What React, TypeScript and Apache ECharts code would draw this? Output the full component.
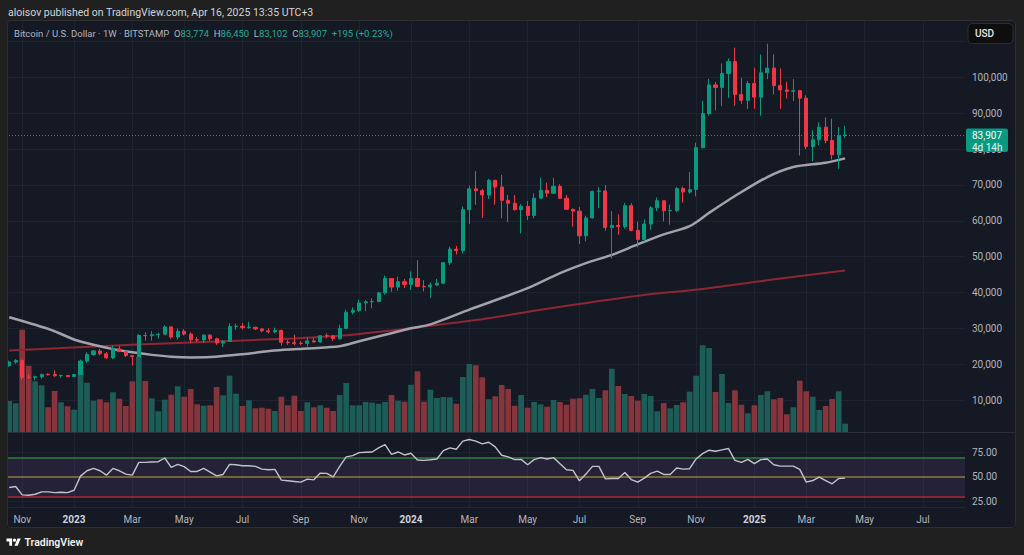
import React, { useEffect, useRef } from "react";
import * as echarts from "echarts";

// ---------------- data (prices in thousands of USD) ----------------
const FIRST_WEEK = "2022-10-24";
const WEEK_SLOTS = 148; // 130 weekly bars + empty future weeks on the axis

const OPEN = [
  19.6, 20.6, 21.0, 16.4, 16.3, 16.5, 17.2, 17.1, 16.8, 16.85,
  16.55, 17.1, 20.9, 22.7, 23.7, 22.9, 21.8, 24.3, 23.5, 22.35,
  22.1, 28.0, 27.95, 28.2, 28.35, 30.4, 27.6, 29.2, 28.4, 26.8,
  26.75, 28.1, 27.1, 25.9, 26.35, 30.5, 30.6, 30.2, 30.3, 29.85,
  29.3, 29.05, 29.4, 26.1, 26.0, 25.85, 25.8, 26.5, 26.2, 27.95,
  27.9, 27.1, 30.0, 34.5, 35.0, 37.1, 37.4, 37.5, 39.9, 43.9,
  41.5, 43.0, 42.25, 43.9, 41.7, 41.6, 42.1, 42.6, 48.3, 52.1,
  51.7, 63.1, 68.9, 68.4, 67.2, 71.3, 69.4, 65.7, 64.9, 63.1,
  64.0, 61.5, 66.3, 68.5, 67.7, 69.6, 66.3, 63.2, 62.7, 55.8,
  60.8, 68.2, 68.3, 58.1, 58.7, 58.4, 64.2, 57.3, 54.8, 59.1,
  63.6, 65.6, 62.8, 62.9, 69.0, 68.0, 68.7, 80.4, 89.9, 97.9,
  97.2, 101.1, 104.4, 95.2, 93.6, 98.3, 94.5, 101.3, 102.6, 97.7,
  96.5, 96.1, 96.3, 94.2, 80.7, 82.6, 86.1, 82.4, 78.4, 83.774,
];
const HIGH = [
  21.0, 21.4, 21.4, 17.2, 16.8, 17.4, 17.4, 18.3, 17.1, 16.95,
  17.2, 21.3, 23.3, 23.9, 24.2, 23.4, 25.2, 25.1, 23.9, 22.6,
  28.4, 28.9, 29.2, 28.8, 30.9, 30.5, 30.0, 29.8, 28.9, 27.6,
  28.4, 28.4, 27.4, 26.8, 31.4, 31.3, 31.5, 31.8, 30.4, 30.0,
  30.0, 30.2, 29.7, 26.8, 28.2, 26.4, 27.4, 27.4, 28.0, 28.6,
  27.95, 31.0, 35.2, 35.9, 38.0, 37.9, 38.4, 40.2, 44.7, 44.0,
  44.4, 43.8, 45.9, 49.0, 43.4, 42.8, 43.8, 48.5, 52.8, 53.0,
  64.0, 69.8, 73.8, 68.9, 71.7, 71.4, 72.8, 67.2, 67.2, 64.7,
  65.5, 67.7, 72.0, 70.6, 72.0, 70.2, 67.2, 63.4, 63.8, 61.4,
  68.4, 69.4, 70.0, 62.7, 61.8, 65.0, 64.9, 59.8, 60.4, 64.1,
  66.5, 65.6, 64.5, 69.4, 69.5, 73.6, 81.8, 93.5, 99.6, 98.7,
  103.9, 105.3, 108.3, 99.9, 99.0, 102.7, 106.4, 109.4, 106.4, 102.5,
  98.8, 99.5, 96.5, 95.0, 85.3, 87.5, 88.8, 88.5, 86.1, 86.45,
];
const LOW = [
  19.3, 20.1, 15.6, 15.9, 15.5, 16.0, 16.8, 16.5, 16.3, 16.4,
  16.5, 17.1, 20.4, 22.3, 22.5, 21.4, 21.4, 23.4, 22.0, 19.6,
  21.9, 26.6, 26.6, 27.2, 28.2, 27.1, 26.9, 28.0, 25.8, 26.2,
  25.9, 26.5, 25.4, 24.8, 26.2, 29.6, 29.7, 29.9, 29.5, 28.9,
  28.6, 28.7, 25.2, 25.4, 25.3, 25.4, 24.9, 26.0, 26.0, 27.2,
  26.5, 26.9, 29.8, 33.9, 34.5, 34.8, 35.6, 37.5, 39.4, 40.2,
  40.5, 41.3, 40.7, 41.5, 40.3, 38.5, 41.8, 42.3, 47.7, 50.6,
  50.9, 59.1, 64.5, 60.8, 66.1, 64.5, 60.7, 59.6, 62.8, 56.5,
  60.2, 60.7, 66.2, 66.6, 67.5, 66.1, 63.0, 58.4, 53.5, 54.3,
  60.6, 63.5, 57.2, 49.5, 56.1, 57.8, 57.2, 52.6, 54.2, 57.5,
  62.7, 59.8, 58.9, 62.4, 65.1, 67.5, 66.8, 80.2, 89.3, 90.8,
  92.0, 94.3, 92.1, 92.6, 91.2, 91.2, 89.3, 99.5, 95.2, 91.2,
  94.1, 93.4, 78.2, 80.0, 76.6, 81.1, 81.6, 77.1, 74.5, 83.102,
];
const CLOSE = [
  20.6, 21.0, 16.3, 16.3, 16.5, 17.1, 17.1, 16.8, 16.85, 16.55,
  17.1, 20.9, 22.7, 23.7, 22.9, 21.8, 24.3, 23.5, 22.4, 22.1,
  28.0, 27.95, 28.2, 28.35, 30.4, 27.6, 29.2, 28.4, 26.8, 26.75,
  28.1, 27.1, 25.9, 26.35, 30.5, 30.6, 30.2, 30.3, 29.85, 29.3,
  29.05, 29.4, 26.1, 26.0, 25.8, 25.8, 26.5, 26.2, 27.95, 27.9,
  27.1, 30.0, 34.5, 35.0, 37.1, 37.4, 37.5, 39.9, 43.9, 41.5,
  43.0, 42.25, 43.9, 41.7, 41.6, 42.1, 42.6, 48.3, 52.1, 51.7,
  63.1, 68.9, 68.4, 67.2, 71.3, 69.4, 65.7, 64.9, 63.1, 64.0,
  61.5, 66.3, 68.5, 67.7, 69.6, 66.3, 63.2, 62.7, 55.8, 60.8,
  68.2, 68.3, 58.1, 58.7, 58.4, 64.2, 57.3, 54.8, 59.1, 63.6,
  65.6, 62.8, 62.9, 69.0, 68.0, 68.7, 80.4, 89.9, 97.9, 97.2,
  101.1, 104.4, 95.2, 93.6, 98.3, 94.5, 101.3, 102.6, 97.7, 96.5,
  96.1, 96.3, 94.2, 80.7, 82.6, 86.1, 82.4, 78.4, 83.712, 83.907,
];
// weekly volume (relative, thousands)
const VOLUME = [
  31, 28.7, 102.3, 66.3, 50.7, 46.7, 24.7, 41, 29.7, 25.7,
  22.3, 60.7, 49.3, 31.3, 32.7, 29.7, 39.7, 33.3, 26, 50.7,
  75, 51, 33.7, 20.7, 32.3, 37.3, 45.7, 35.3, 43, 27.7,
  26.3, 26.7, 45, 36.7, 56.3, 38.3, 26, 31.7, 23.7, 24.3,
  23.3, 21, 35.3, 26.7, 36.3, 21, 29.7, 24.7, 26.7, 24.3,
  21, 37, 49, 26.7, 26.7, 30, 29.3, 28.3, 30, 37,
  31.3, 30.3, 47.3, 60.7, 30.3, 42.3, 34, 35, 34.7, 28.3,
  55, 68, 66.7, 54.7, 32.7, 35.7, 47, 43, 26.3, 37,
  24.3, 30, 27.7, 25.3, 32, 30, 27.3, 33.3, 33.7, 37.3,
  43, 34, 41.7, 63.3, 46, 38, 36, 31.3, 38, 36,
  20.7, 29, 23.7, 27, 29.7, 40.3, 56.3, 86.7, 84, 40,
  58, 29, 41.7, 27.3, 18.7, 26.7, 37, 40.7, 32.7, 34,
  17.7, 24.7, 51.3, 40.7, 35.3, 22, 26, 33, 40.7, 8.3,
];
const RSI = [
  39.0, 40.0, 31.4, 31.0, 32.1, 34.5, 34.5, 33.8, 34.1, 33.8,
  36.2, 50.7, 56.2, 58.6, 56.2, 51.7, 58.6, 56.2, 52.8, 51.7,
  64.8, 64.8, 65.2, 65.5, 69.3, 59.7, 62.8, 60.4, 55.5, 55.5,
  58.6, 54.8, 51.0, 52.4, 62.8, 62.4, 61.4, 61.4, 60.7, 57.9,
  57.2, 57.6, 46.6, 45.9, 45.2, 44.5, 47.6, 46.9, 53.8, 53.5,
  50.0, 60.7, 70.4, 71.7, 74.8, 75.2, 75.5, 79.7, 83.1, 73.1,
  75.5, 72.4, 74.2, 67.3, 66.9, 67.5, 68.3, 76.9, 79.7, 78.3,
  86.6, 88.3, 86.6, 83.8, 85.5, 80.7, 72.1, 70.4, 67.6, 67.9,
  62.4, 67.6, 69.7, 68.3, 69.7, 63.5, 57.2, 56.6, 45.9, 52.8,
  60.7, 60.7, 47.9, 48.3, 48.3, 54.5, 47.2, 44.5, 48.6, 53.5,
  55.9, 52.4, 52.4, 59.0, 57.9, 58.3, 68.3, 73.8, 77.3, 76.2,
  77.6, 79.0, 66.9, 64.8, 67.9, 63.5, 67.6, 68.3, 62.4, 61.0,
  61.0, 61.0, 57.6, 44.5, 46.2, 49.7, 46.2, 42.8, 48.3, 48.6,
];
// moving averages: [week number (1-based), value in k]
const MA_GRAY = [
  [1, 33.1], [5, 31.0], [8, 29.2], [11, 26.9], [14, 25.4], [17, 24.2], [20, 23.3],
  [23, 22.6], [26, 22.1], [29, 21.9], [32, 22.0], [37, 22.8], [42, 23.8], [47, 24.4],
  [52, 25.0], [55, 26.4], [59, 28.2], [63, 30.0], [66, 31.1], [72, 35.2], [81, 41.2],
  [86, 45.4], [90, 48.2], [94, 50.5], [98, 53.4], [102, 56.2], [106, 58.5], [109, 62.2],
  [113, 66.9], [118, 72.2], [122, 75.0], [127, 76.2], [130, 77.4],
];
const MA_RED = [
  [1, 23.8], [10, 24.6], [20, 25.4], [34, 26.4], [45, 27.2], [52, 27.9], [60, 29.4],
  [66, 30.7], [75, 32.8], [83, 35.2], [98, 39.1], [108, 41.0], [120, 43.9], [130, 46.1],
];
const RSI_TICKS = [25, 50, 75];
const RSI_UPPER = 70;
const RSI_MID = 50;
const RSI_LOWER = 30;
const MONTHS = ["Jan", "Feb", "Mar", "Apr", "May", "Jun", "Jul", "Aug", "Sep", "Oct", "Nov", "Dec"];

// ---------------- derived ----------------
const WEEK_MS = 7 * 86400000;
const START_MS = Date.parse(FIRST_WEEK + "T00:00:00Z");
const DATES = Array.from({ length: WEEK_SLOTS }, (_, i) =>
  new Date(START_MS + i * WEEK_MS).toISOString().slice(0, 10)
);
const isLabelWeek = (v: string) => {
  const d = new Date(v + "T00:00:00Z");
  return d.getUTCDate() <= 7 && d.getUTCMonth() % 2 === 0;
};
const dateLabel = (v: string) => {
  const d = new Date(v + "T00:00:00Z");
  return d.getUTCMonth() === 0 ? `{y|${d.getUTCFullYear()}}` : MONTHS[d.getUTCMonth()];
};
const K = 1000;
const CANDLES = OPEN.map((o, i) => [o * K, CLOSE[i] * K, LOW[i] * K, HIGH[i] * K]);
const LAST = OPEN.length - 1;
const fmtUsd = (k: number) => Math.round(k * K).toLocaleString("en-US");

// ---------------- style ----------------
const FONT = "Roboto, 'Noto Sans', sans-serif";
const CHART_BG = "#151923";
const OUTER = "#202020";
const GRID = "#1f2330";
const AXIS_TEXT = "#b2b5be";
const UP = "#089981";
const DOWN = "#f23645";
const VOL_UP = "#1d5d58";
const VOL_DOWN = "#87353c";

echarts.graphic.registerShape(
  "tvLogo",
  echarts.graphic.extendPath(
    "M14 22H7V11H0V4h14v18zM28 22h-8l7.5-18h8L28 22zM24 8a4 4 0 1 1-8 0a4 4 0 1 1 8 0z",
    {}
  )
);

function buildOption() {
  const gridLeft = 6;
  const gridWidth = 959;
  return {
    animation: false,
    backgroundColor: CHART_BG,
    textStyle: { fontFamily: FONT },
    grid: [
      { left: gridLeft, top: 20, width: gridWidth, height: 415.9 },
      { left: gridLeft, top: 322, width: gridWidth, height: 110 },
      { left: gridLeft, top: 432, width: gridWidth, height: 75 },
    ],
    xAxis: [
      {
        type: "category", gridIndex: 0, data: DATES, boundaryGap: true,
        axisLine: { show: false }, axisTick: { show: false }, axisLabel: { show: false },
        splitLine: { show: true, alignWithLabel: true, interval: (_i: number, v: string) => isLabelWeek(v), lineStyle: { color: GRID, width: 1 } },
      },
      {
        type: "category", gridIndex: 1, data: DATES, boundaryGap: true, show: false,
      },
      {
        type: "category", gridIndex: 2, data: DATES, boundaryGap: true,
        axisLine: { show: true, lineStyle: { color: "#22262f" } },
        axisTick: { show: false },
        axisLabel: {
          show: true, interval: (_i: number, v: string) => isLabelWeek(v), formatter: dateLabel,
          color: AXIS_TEXT, fontSize: 10, margin: 7, fontFamily: FONT,
          rich: { y: { fontWeight: "bold", color: "#d1d4dc", fontSize: 10, fontFamily: FONT } },
        },
        splitLine: { show: true, alignWithLabel: true, interval: (_i: number, v: string) => isLabelWeek(v), lineStyle: { color: GRID, width: 1 } },
      },
    ],
    yAxis: [
      {
        type: "value", gridIndex: 0, position: "right", min: 0, max: 116000, interval: 10000,
        axisLine: { show: false }, axisTick: { show: false },
        axisLabel: {
          color: AXIS_TEXT, fontSize: 10, margin: 7, fontFamily: FONT,
          formatter: (v: number) => (v === 0 || v > 100000 ? "" : v.toLocaleString("en-US")),
        },
        splitLine: { show: true, showMinLine: false, lineStyle: { color: GRID, width: 1 } },
      },
      { type: "value", gridIndex: 1, min: 0, max: 110, show: false },
      {
        type: "value", gridIndex: 2, position: "right", min: 19, max: 96,
        axisLine: { show: false }, axisTick: { show: false },
        axisLabel: {
          customValues: RSI_TICKS, color: AXIS_TEXT, fontSize: 10, margin: 7, fontFamily: FONT,
          formatter: (v: number) => v.toFixed(2),
        },
        splitLine: { show: false },
      },
    ],
    series: [
      {
        type: "bar", name: "Volume", xAxisIndex: 1, yAxisIndex: 1, barWidth: "88%", z: 1,
        data: VOLUME.map((v, i) => ({ value: v, itemStyle: { color: CLOSE[i] >= OPEN[i] ? VOL_UP : VOL_DOWN } })),
      },
      {
        type: "line", name: "MA long", xAxisIndex: 0, yAxisIndex: 0, z: 3,
        data: MA_RED.map(([n, v]) => [DATES[n - 1], v * K]),
        smooth: 0.3, symbol: "none", lineStyle: { color: "#8e2633", width: 2 },
      },
      {
        type: "line", name: "MA", xAxisIndex: 0, yAxisIndex: 0, z: 4,
        data: MA_GRAY.map(([n, v]) => [DATES[n - 1], v * K]),
        smooth: 0.3, symbol: "none", lineStyle: { color: "#a2a2aa", width: 2.5 },
      },
      {
        type: "candlestick", name: "BTCUSD", xAxisIndex: 0, yAxisIndex: 0, z: 5,
        barWidth: 3.6, data: CANDLES,
        itemStyle: { color: UP, color0: DOWN, borderColor: UP, borderColor0: DOWN, borderWidth: 1 },
        markLine: {
          silent: true, symbol: ["none", "none"], label: { show: false },
          lineStyle: { color: UP, type: [1, 2], width: 1 },
          data: [{ yAxis: CLOSE[LAST] * K }],
        },
      },
      {
        type: "line", name: "RSI", xAxisIndex: 2, yAxisIndex: 2, z: 5,
        data: RSI, symbol: "none", lineStyle: { color: "#c2c2ca", width: 1.4 },
        markArea: {
          silent: true, itemStyle: { color: "rgba(126,87,194,0.14)" },
          data: [[{ yAxis: RSI_LOWER }, { yAxis: RSI_UPPER }]],
        },
        markLine: {
          silent: true, symbol: ["none", "none"], label: { show: false },
          data: [
            { yAxis: RSI_TICKS[2], lineStyle: { color: GRID, width: 1, type: "solid" } },
            { yAxis: RSI_TICKS[0], lineStyle: { color: GRID, width: 1, type: "solid" } },
            { yAxis: RSI_UPPER, lineStyle: { color: "#2f7a3c", width: 1.5, type: "solid" } },
            { yAxis: RSI_MID, lineStyle: { color: "#8c7c35", width: 1.5, type: "solid" } },
            { yAxis: RSI_LOWER, lineStyle: { color: "#a92a3a", width: 1.5, type: "solid" } },
          ],
        },
      },
    ],
  };
}

function buildGraphics(lastY: number) {
  const change = Math.round((CLOSE[LAST] - CLOSE[LAST - 1]) * K);
  const pct = ((CLOSE[LAST] - CLOSE[LAST - 1]) / CLOSE[LAST - 1]) * 100;
  const sign = change >= 0 ? "+" : "";
  const header =
    `{t|Bitcoin / U.S. Dollar · 1W · BITSTAMP}  {k|O}{v|${fmtUsd(OPEN[LAST])}}  {k|H}{v|${fmtUsd(HIGH[LAST])}}  ` +
    `{k|L}{v|${fmtUsd(LOW[LAST])}}  {k|C}{v|${fmtUsd(CLOSE[LAST])}}  {v|${sign}${change} (${sign}${pct.toFixed(2)}%)}`;
  const txt = (size: number, fill: string, weight: any = "normal") => ({ fontSize: size, fill, fontFamily: FONT, fontWeight: weight });
  return [
    { type: "rect", silent: true, z: 100, shape: { x: 0, y: 0, width: 1024, height: 20 }, style: { fill: OUTER } },
    { type: "rect", silent: true, z: 100, shape: { x: 0, y: 20, width: 7, height: 508 }, style: { fill: OUTER } },
    { type: "rect", silent: true, z: 100, shape: { x: 1016, y: 20, width: 8, height: 508 }, style: { fill: OUTER } },
    { type: "rect", silent: true, z: 100, shape: { x: 0, y: 528, width: 1024, height: 27 }, style: { fill: OUTER } },
    { type: "rect", silent: true, z: 101, shape: { x: 7.5, y: 20.5, width: 1008, height: 507, r: 3 }, style: { fill: "none", stroke: "#2e2e2e", lineWidth: 1 } },
    { type: "line", silent: true, z: 101, shape: { x1: 7, y1: 432.5, x2: 1016, y2: 432.5 }, style: { stroke: "#2b2f3a", lineWidth: 1 } },
    {
      type: "text", silent: true, z: 102, x: 8, y: 12,
      style: { text: "aloisov published on TradingView.com, Apr 16, 2025 13:35 UTC+3", verticalAlign: "middle", ...txt(10.5, "#d1d4dc") },
    },
    {
      type: "text", silent: true, z: 102, x: 14, y: 33,
      style: {
        text: header, verticalAlign: "middle", ...txt(9.5, AXIS_TEXT),
        rich: { t: txt(9.5, AXIS_TEXT), k: txt(9.5, AXIS_TEXT), v: txt(9.5, "#22ab94") },
      },
    },
    { type: "rect", silent: true, z: 102, shape: { x: 968, y: 23.5, width: 45, height: 20, r: 4 }, style: { fill: "#0e0e0e", stroke: "#2c2c2c", lineWidth: 1 } },
    { type: "text", silent: true, z: 103, x: 975, y: 33.5, style: { text: "USD", verticalAlign: "middle", ...txt(10, "#e6e6e6", 500) } },
    { type: "rect", silent: true, z: 102, shape: { x: 966, y: lastY - 6.5, width: 42, height: 23.5, r: 2 }, style: { fill: UP } },
    { type: "text", silent: true, z: 103, x: 972, y: lastY + 0.5, style: { text: fmtUsd(CLOSE[LAST]), verticalAlign: "middle", ...txt(10, "#ffffff") } },
    { type: "text", silent: true, z: 103, x: 972, y: lastY + 12, style: { text: "4d 14h", verticalAlign: "middle", ...txt(10, "#e8f5f2") } },
    { type: "tvLogo", silent: true, z: 102, x: 6.5, y: 537, scaleX: 0.4, scaleY: 0.4, style: { fill: "#ffffff" } },
    { type: "text", silent: true, z: 102, x: 24.5, y: 542.5, style: { text: "TradingView", verticalAlign: "middle", ...txt(10.5, "#f0f0f0", 600) } },
  ];
}

export default function App() {
  const ref = useRef<HTMLDivElement>(null);
  useEffect(() => {
    document.body.style.margin = "0";
    const chart = echarts.init(ref.current as HTMLDivElement, undefined, { renderer: "svg", width: 1024, height: 555 });
    chart.setOption(buildOption() as any);
    const lastY = chart.convertToPixel({ yAxisIndex: 0 } as any, CLOSE[LAST] * K) as unknown as number;
    chart.setOption({ graphic: buildGraphics(lastY) } as any);
    return () => chart.dispose();
  }, []);
  return <div ref={ref} style={{ position: "fixed", left: 0, top: 0, width: 1024, height: 555 }} />;
}
